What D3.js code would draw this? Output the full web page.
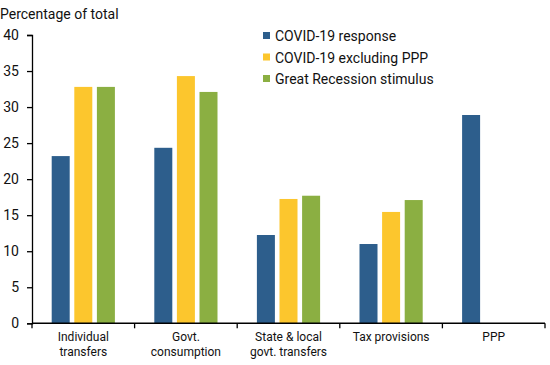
<!DOCTYPE html>
<html><head><meta charset="utf-8">
<script src="https://cdn.jsdelivr.net/npm/d3@7"></script>
<style>body{margin:0;background:#fff}svg{font-family:Roboto,"Liberation Sans",sans-serif}</style>
</head><body><svg id="c" width="550" height="365"></svg>
<script>
const categories = [["Individual","transfers"],["Govt.","consumption"],["State & local","govt. transfers"],["Tax provisions"],["PPP"]];
const seriesNames = ["COVID-19 response","COVID-19 excluding PPP","Great Recession stimulus"];
const covid = [23.2, 24.35, 12.25, 11.0, 28.9];
const covidExPPP = [32.8, 34.3, 17.25, 15.45, null];
const greatRecession = [32.8, 32.1, 17.7, 17.1, null];
const yTicks = [0,5,10,15,20,25,30,35,40];
const colors = ["#2d5e8c","#fcc62d","#8baf42"];

const svg = d3.select("#c");
const m = {l:32, r:5, t:35, b:42};
const W = 550, H = 365;
const x = d3.scaleBand().domain(d3.range(categories.length)).range([m.l, 545]).padding(0);
const y = d3.scaleLinear().domain([0,40]).range([323.3, 35]);
const series = [covid, covidExPPP, greatRecession];
const bw = 18, gap = 4.6;

series.forEach((s,si)=>{
  svg.append("g").selectAll("rect").data(s.map((v,i)=>({v,i})).filter(d=>d.v!=null))
    .join("rect")
    .attr("x", d=> x(d.i) + x.bandwidth()/2 + (si-1)*(bw+gap) - bw/2)
    .attr("width", bw)
    .attr("y", d=>y(d.v))
    .attr("height", d=>y(0)-y(d.v))
    .attr("fill", colors[si]);
});

const ya = svg.append("g").attr("transform",`translate(${m.l},0)`)
  .call(d3.axisLeft(y).tickValues(yTicks).tickSize(5).tickPadding(8));
ya.select(".domain").attr("stroke","#000").attr("stroke-width",1.3);
ya.selectAll(".tick line").attr("stroke","#000").attr("stroke-width",1.3);
ya.selectAll("text").attr("font-size",14).attr("fill","#111").style("font-family","Roboto");

const xa = svg.append("g").attr("transform",`translate(0,${y(0)})`);
xa.append("line").attr("x1",m.l).attr("x2",545).attr("stroke","#000").attr("stroke-width",1.5);
xa.selectAll("line.t").data(d3.range(categories.length+1)).join("line").attr("class","t")
  .attr("x1",i=> i<categories.length ? x(i) : x(i-1)+x.bandwidth())
  .attr("x2",i=> i<categories.length ? x(i) : x(i-1)+x.bandwidth())
  .attr("y1",0).attr("y2",5).attr("stroke","#000").attr("stroke-width",1.3);
const lab = xa.selectAll("text").data(categories).join("text")
  .attr("x",(d,i)=>x(i)+x.bandwidth()/2).attr("y",18)
  .attr("text-anchor","middle").attr("font-size",12).attr("fill","#111");
lab.selectAll("tspan").data(d=>d).join("tspan")
  .attr("x",function(){return this.parentNode.getAttribute("x");})
  .attr("dy",(d,i)=>i===0?0:15).text(d=>d);

svg.append("text").attr("x",0).attr("y",19).attr("font-size",14).attr("fill","#111").text("Percentage of total");

const lg = svg.append("g");
seriesNames.forEach((n,i)=>{
  const yy = 36 + i*21.5;
  lg.append("rect").attr("x",263).attr("y",yy-4).attr("width",7).attr("height",7).attr("fill",colors[i]);
  lg.append("text").attr("x",275).attr("y",yy+5).attr("font-size",14).attr("fill","#111").text(n);
});
</script></body></html>
